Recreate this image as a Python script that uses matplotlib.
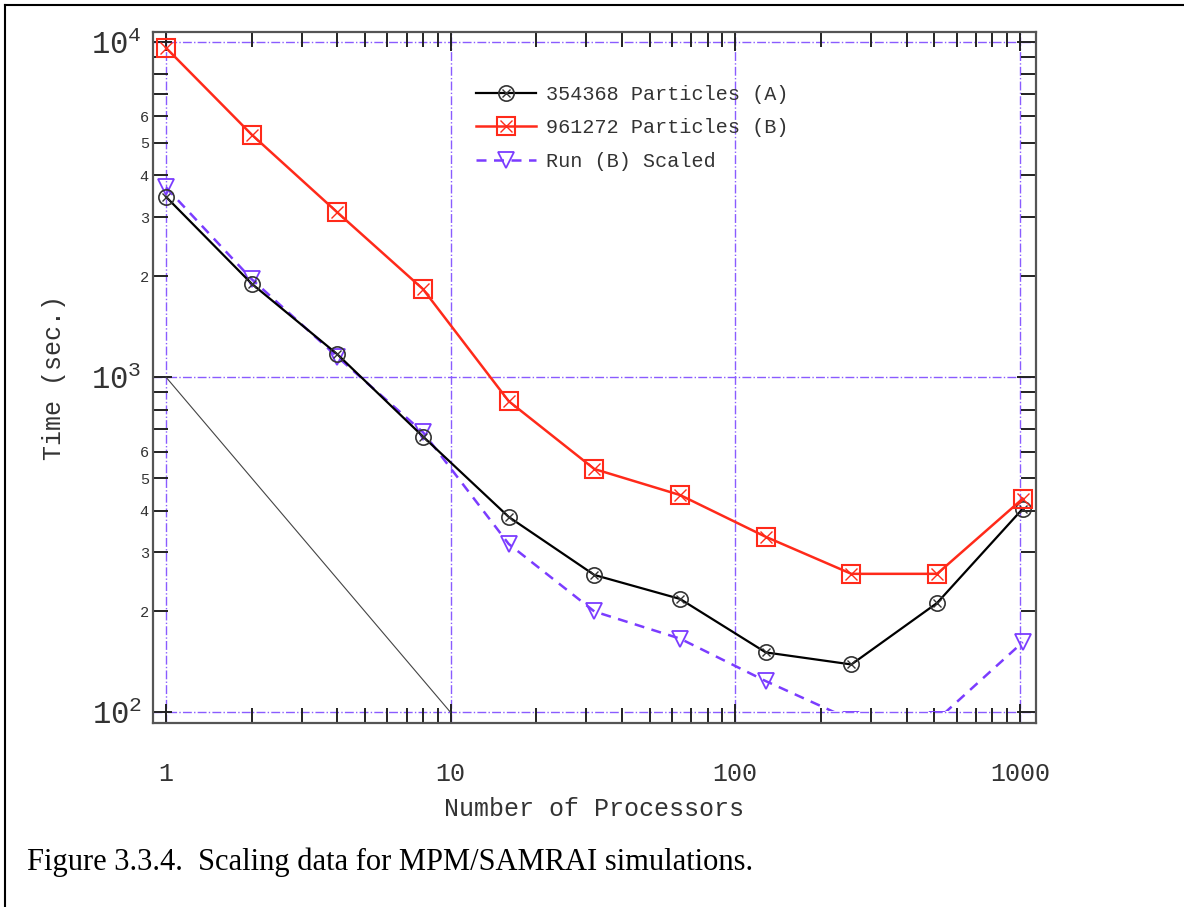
import numpy as np
import matplotlib
matplotlib.use('Agg')
import matplotlib.pyplot as plt
from matplotlib.ticker import FixedLocator, NullFormatter, FixedFormatter
from matplotlib.legend_handler import HandlerTuple
from matplotlib.patches import Rectangle
from matplotlib.lines import Line2D

plt.rcParams['font.family'] = ['Liberation Mono', 'DejaVu Sans Mono']

procs = [1, 2, 4, 8, 16, 32, 64, 128, 256, 512, 1024]
time_a = [3450, 1900, 1170, 665, 383, 257, 218, 151, 139, 212, 405]
time_b = [9600, 5290, 3100, 1830, 848, 532, 445, 334, 259, 259, 434]
time_b_scaled = [3680, 1960, 1150, 685, 318, 200, 166, 124, 95, 95, 162]
ideal_x = [1, 10]
ideal_y = [1000, 100]

labels = ['354368 Particles (A)', '961272 Particles (B)', 'Run (B) Scaled']
grid_color = '#8a5cff'

fig = plt.figure(figsize=(11.84, 9.07), dpi=100)
ax = fig.add_axes([0.1292, 0.2029, 0.7458, 0.7618])
ax.set_xscale('log')
ax.set_yscale('log')
ax.set_xlim(0.9, 1140)
ax.set_ylim(93, 10700)

# decade grid, dash-dot purple
for gx in [1, 10, 100, 1000]:
    ax.axvline(gx, color=grid_color, lw=1.0, ls='-.', zorder=1)
for gy in [100, 1000, 10000]:
    ax.axhline(gy, color=grid_color, lw=1.0, ls='-.', zorder=1)

# ideal scaling line
ax.plot(ideal_x, ideal_y, color='#444444', lw=0.8, zorder=2)

la, = ax.plot(procs, time_a, color='black', lw=1.6, marker='o', ms=11,
              mfc='none', mec='#333333', mew=1.2, zorder=4)
lax, = ax.plot(procs, time_a, ls='none', marker='x', ms=6, mec='#333333', mew=1.0, zorder=4)
lb, = ax.plot(procs, time_b, color='#ff2a1a', lw=1.8, marker='s', ms=13,
              mfc='none', mec='#ff2a1a', mew=1.5, zorder=4)
lbx, = ax.plot(procs, time_b, ls='none', marker='x', ms=8, mec='#ff2a1a', mew=1.0, zorder=4)
lc, = ax.plot(procs, time_b_scaled, color='#7b3cff', lw=1.8, ls=(0, (4, 3)), marker='v', ms=12,
              mfc='none', mec='#7b3cff', mew=1.3, zorder=3)
# the plotting window stops at 10^2, the frame sits a little lower
clip = Rectangle((0.9, 101), 1200, 20000, transform=ax.transData)
lc.set_clip_path(clip)

# ticks
ax.xaxis.set_major_locator(FixedLocator([1, 10, 100, 1000]))
ax.xaxis.set_major_formatter(FixedFormatter(['1', '10', '100', '1000']))
ax.xaxis.set_minor_locator(FixedLocator([m * d for d in [1, 10, 100] for m in range(2, 10)]))
ax.xaxis.set_minor_formatter(NullFormatter())

ax.yaxis.set_major_locator(FixedLocator([100, 1000, 10000]))
ax.yaxis.set_major_formatter(FixedFormatter([r'$\mathregular{10^{2}}$', r'$\mathregular{10^{3}}$',
                                             r'$\mathregular{10^{4}}$']))
ymin_ticks = [m * d for d in [100, 1000] for m in range(2, 10)]
ymin_labels = [str(m) if m <= 6 else '' for d in [100, 1000] for m in range(2, 10)]
ax.yaxis.set_minor_locator(FixedLocator(ymin_ticks))
ax.yaxis.set_minor_formatter(FixedFormatter(ymin_labels))

ax.tick_params(which='both', direction='in', top=True, right=True, color='#222222', width=1.4)
ax.tick_params(which='major', length=14)
ax.tick_params(which='minor', length=11)
ax.tick_params(axis='x', which='major', labelsize=18, pad=28, labelcolor='#333333')
ax.tick_params(axis='y', which='major', labelsize=22, pad=8, labelcolor='#333333')
ax.tick_params(axis='y', which='minor', labelsize=11, pad=3, labelcolor='#333333')

for sp in ax.spines.values():
    sp.set_color('#555555')
    sp.set_linewidth(1.6)

ax.set_xlabel('Number of Processors', fontsize=18, color='#333333', labelpad=8)
ax.set_ylabel('Time (sec.)', fontsize=18, color='#333333', labelpad=18)

leg = ax.legend([(la, lax), (lb, lbx), lc], labels,
                handler_map={tuple: HandlerTuple(ndivide=1)},
                loc='upper left', bbox_to_anchor=(0.345, 0.95), frameon=False,
                fontsize=14.5, handlelength=3.0, labelspacing=0.72, handletextpad=0.5)
for t in leg.get_texts():
    t.set_color('#333333')

# caption and page border
fig.text(0.023, 0.049, 'Figure 3.3.4.  Scaling data for MPM/SAMRAI simulations.',
         family='Liberation Serif', fontsize=22, color='black', va='center')
fig.add_artist(Line2D([0.004, 0.004], [0, 0.995], transform=fig.transFigure, color='black', lw=1.5))
fig.add_artist(Line2D([0.004, 1.0], [0.995, 0.995], transform=fig.transFigure, color='black', lw=1.5))

fig.savefig('out.png', dpi=100)
